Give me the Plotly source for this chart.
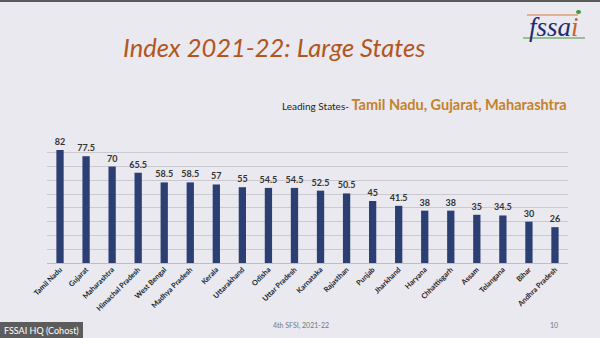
import plotly.graph_objects as go

# Index 2021-22 scores for large states
states = ["Tamil Nadu", "Gujarat", "Maharashtra", "Himachal Pradesh", "West Bengal",
          "Madhya Pradesh", "Kerala", "Uttarakhand", "Odisha", "Uttar Pradesh",
          "Karnataka", "Rajasthan", "Punjab", "Jharkhand", "Haryana",
          "Chhattisgarh", "Assam", "Telangana", "Bihar", "Andhra Pradesh"]
scores = [82, 77.5, 70, 65.5, 58.5, 58.5, 57, 55, 54.5, 54.5,
          52.5, 50.5, 45, 41.5, 38, 38, 35, 34.5, 30, 26]
score_labels = [f"{v:g}" for v in scores]

W, H = 600, 338
L, R, T, B = 47, 32, 139, 75
PW, PH = W - L - R, H - T - B


def px(x):
    return (x - L) / PW


def py(y):
    return (H - B - y) / PH


BG = "#e9e9ef"
BAR = "#2b3f73"
FONT = "Lato"

fig = go.Figure(go.Bar(
    x=states, y=scores, marker_color=BAR, marker_line_width=0,
    text=score_labels, textposition="outside", cliponaxis=False,
    constraintext="none",
    textfont=dict(family=FONT, size=9, color="#333333", weight="bold"),
))

fig.update_layout(
    width=W, height=H, margin=dict(l=L, r=R, t=T, b=B),
    paper_bgcolor=BG, plot_bgcolor=BG, bargap=0.72, showlegend=False,
    font=dict(family=FONT),
    xaxis=dict(tickangle=-45, tickfont=dict(family=FONT, size=7.3, color="#222222", weight="bold"),
               showgrid=False, showline=False, ticks=""),
    yaxis=dict(range=[0, 90], dtick=10, showticklabels=False, gridcolor="#c9c9cf",
               gridwidth=1, zeroline=True, zerolinecolor="#bdbdc4", zerolinewidth=1),
)

ann = [
    dict(x=px(274), y=py(47), text="<i>Index 2021-22: Large States</i>",
         font=dict(family=FONT, size=25.5, color="#b3561e")),
    dict(x=px(569), y=py(104), xanchor="right", text=(
        "Leading States- <b><span style='font-size:14.5px;color:#c5812b'>"
        "Tamil Nadu, Gujarat, Maharashtra</span></b>"),
         font=dict(family=FONT, size=10, color="#222222")),
    dict(x=px(301), y=py(325), text="4th SFSI, 2021-22",
         font=dict(family=FONT, size=7, color="#777777")),
    dict(x=px(554), y=py(325), text="10",
         font=dict(family=FONT, size=7, color="#777777")),
    dict(x=px(2), y=py(330), xanchor="left", text="FSSAI HQ (Cohost)",
         font=dict(family=FONT, size=9, color="#ffffff")),
    dict(x=px(554), y=py(27), text=(
        "<i>fssa<span style='color:#c3622a'>i</span></i>"),
         font=dict(family="Liberation Serif", size=27, color="#1f2d6e")),
]
for a in ann:
    a.setdefault("xref", "paper")
    a.setdefault("yref", "paper")
    a.setdefault("xanchor", "center")
    a.setdefault("yanchor", "middle")
    a.setdefault("showarrow", False)
fig.update_layout(annotations=ann)

shapes = [
    dict(type="rect", x0=px(0), x1=px(W), y0=py(0), y1=py(2),
         fillcolor="#5a5a5a", line_width=0),
    dict(type="rect", x0=px(0), x1=px(83), y0=py(322), y1=py(338),
         fillcolor="#5c5c5c", line_width=0),
    dict(type="line", x0=px(527), x1=px(578), y0=py(15), y1=py(15),
         line=dict(color="#d9773a", width=1.2)),
    dict(type="line", x0=px(523), x1=px(585), y0=py(38), y1=py(38),
         line=dict(color="#3f9a3a", width=1.2)),
    dict(type="circle", x0=px(576), x1=px(581), y0=py(10), y1=py(14),
         fillcolor="#3f9a3a", line_width=0),
]
for s in shapes:
    s["xref"] = "paper"
    s["yref"] = "paper"
fig.update_layout(shapes=shapes)

fig.write_html("out.html")
